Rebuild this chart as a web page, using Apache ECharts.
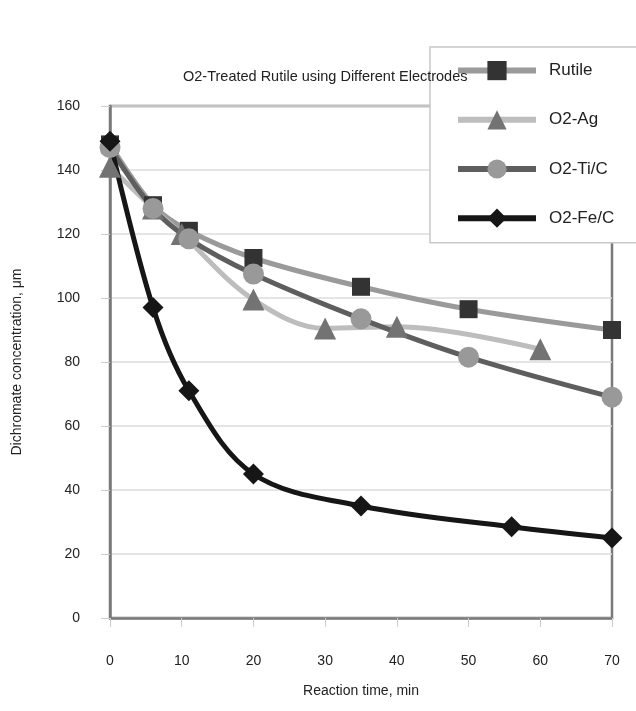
<!DOCTYPE html>
<html>
<head>
<meta charset="utf-8">
<script src="https://cdn.jsdelivr.net/npm/echarts@6/dist/echarts.min.js"></script>
<style>
  html, body { margin: 0; padding: 0; background: #fff; }
  #chart { width: 636px; height: 711px; }
</style>
</head>
<body>
<div id="chart"></div>
<script>
// values
const rutileX = [0, 6, 11, 20, 35, 50, 70];
const rutileY = [148, 129, 121, 112.5, 103.5, 96.5, 90];

const agX = [0, 6, 10, 20, 30, 40, 60];
const agY = [141, 128, 120, 99.5, 90.5, 91, 84];

const tiX = [0, 6, 11, 20, 35, 50, 70];
const tiY = [147, 128, 118.5, 107.5, 93.5, 81.5, 69];

const feX = [0, 6, 11, 20, 35, 56, 70];
const feY = [149, 97, 71, 45, 35, 28.5, 25];

const xTicks = [0, 10, 20, 30, 40, 50, 60, 70];
const yTicks = [0, 20, 40, 60, 80, 100, 120, 140, 160];

const FONT = 'Liberation Sans';

const pairs = (xs, ys) => xs.map((x, i) => [x, ys[i]]);

const makeSeries = (name, xs, ys, symbol, size, lineColor, markColor) => ({
    name: name,
    type: 'line',
    smooth: 0.35,
    data: pairs(xs, ys),
    symbol: symbol,
    symbolSize: size,
    lineStyle: {color: lineColor, width: 5},
    itemStyle: {color: markColor, borderWidth: 0},
    emphasis: {disabled: true},
});

const chart = echarts.init(document.getElementById('chart'));

chart.setOption({
    animation: false,
    backgroundColor: '#fff',
    textStyle: {fontFamily: FONT},
    title: {
        text: 'O2-Treated Rutile using Different Electrodes',
        left: 178,
        top: 64,
        textStyle: {fontFamily: FONT, fontSize: 14.5, fontWeight: 'normal', color: '#222'},
    },
    legend: {
        orient: 'vertical',
        left: 430,
        top: 47,
        padding: [14, 120, 15, 25],
        itemGap: 30,
        itemWidth: 78,
        itemHeight: 24,
        backgroundColor: '#fff',
        borderColor: '#c8c8c8',
        borderWidth: 1.5,
        lineStyle: {width: 6},
        textStyle: {fontFamily: FONT, fontSize: 17, color: '#222', padding: [0, 0, 0, 8]},
        data: ['Rutile', 'O2-Ag', 'O2-Ti/C', 'O2-Fe/C'],
    },
    grid: {
        left: 110,
        right: 24,
        top: 106,
        bottom: 93,
        show: true,
        borderColor: '#7a7a7a',
        borderWidth: 2.5,
    },
    xAxis: {
        type: 'value',
        min: 0,
        max: 70,
        interval: 10,
        name: 'Reaction time, min',
        nameLocation: 'middle',
        nameGap: 66,
        nameTextStyle: {fontFamily: FONT, fontSize: 14, color: '#222'},
        axisLine: {lineStyle: {color: '#7a7a7a', width: 2.5}},
        axisTick: {length: 9, lineStyle: {color: '#ccc'}},
        axisLabel: {
            margin: 36,
            fontFamily: FONT,
            fontSize: 14,
            color: '#222',
            formatter: (v) => xTicks.includes(v) ? String(v) : '',
        },
        splitLine: {show: false},
    },
    yAxis: {
        type: 'value',
        min: 0,
        max: 160,
        interval: 20,
        name: 'Dichromate concentration, \u03bcm',
        nameLocation: 'middle',
        nameGap: 86,
        nameTextStyle: {fontFamily: FONT, fontSize: 14, color: '#222'},
        axisLine: {show: true, lineStyle: {color: '#7a7a7a', width: 2.5}},
        axisTick: {show: true, length: 9, lineStyle: {color: '#ccc'}},
        axisLabel: {
            margin: 30,
            fontFamily: FONT,
            fontSize: 14,
            color: '#222',
            formatter: (v) => yTicks.includes(v) ? String(v) : '',
        },
        splitLine: {lineStyle: {color: '#dcdcdc', width: 1.5}},
    },
    series: [
        makeSeries('Rutile', rutileX, rutileY, 'rect', 18, '#9a9a9a', '#333333'),
        makeSeries('O2-Ag', agX, agY, 'triangle', 22, '#bdbdbd', '#737373'),
        makeSeries('O2-Ti/C', tiX, tiY, 'circle', 21, '#5e5e5e', '#999999'),
        makeSeries('O2-Fe/C', feX, feY, 'diamond', 21, '#161616', '#161616'),
    ],
});
</script>
</body>
</html>
